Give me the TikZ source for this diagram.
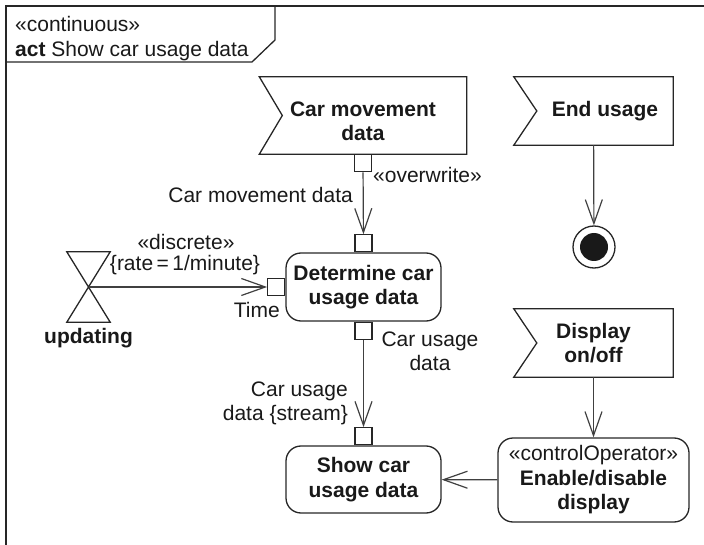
\documentclass[tikz,border=0pt]{standalone}
\usepackage{fontspec}
\setmainfont{Liberation Sans}
\usetikzlibrary{positioning, arrows.meta}
\newcommand\usz{\fontsize{21}{24.5}\selectfont}
\tikzset{
  uline/.style={line width=1.3pt, draw=black!85},
  ublk/.style={align=center, font=\usz\bfseries, inner sep=0pt, text=black!90},
  uact/.style={ublk, uline, rounded corners=15pt, minimum width=155pt, minimum height=68pt},
  uacc/.style={ublk, minimum width=159pt, minimum height=68pt,
               append after command={\pgfextra{\draw[uline]
                 (\tikzlastnode.north west) -- (\tikzlastnode.north east)
                 -- (\tikzlastnode.south east) -- (\tikzlastnode.south west)
                 -- ([xshift=23pt]\tikzlastnode.west) -- cycle;}}},
  upinbox/.style={uline, line width=1.2pt, fill=white, minimum size=17pt, inner sep=0pt},
  ulbl/.style={font=\usz, inner sep=0pt, text=black!90},
  uarr/.style={-{Straight Barb[length=24pt, width=17pt]}, line width=1.2pt, draw=black!75},
}

\begin{document}
\begin{tikzpicture}[x=1pt, y=-1pt]
  \useasboundingbox (0,0) rectangle (704,545);
  % frame and its name tag
  \draw[uline] (6,545) -- (6,6) -- (704,6);
  \draw[uline] (6,62) -- (252,62) -- (275,40) -- (275,6);
  \node[ulbl, anchor=base west] (ster) at (15,32) {«continuous»};
  \node[ulbl, anchor=base west] (ttl) at (15,57) {\textbf{act} Show car usage data};

  % accept event actions
  \node[uacc, minimum width=207pt, minimum height=77pt] (cm) at (363,115.5) {\rule{0pt}{26pt}Car movement\\data};
  \node[uacc] (endu) at (593.5,111) {\hspace*{23pt}End usage};
  \node[uacc] (disp) at (593.5,343) {Display\\on/off};

  % actions
  \node[uact] (det) at (363.5,287) {Determine car\\usage data};
  \node[uact, minimum height=67pt] (show) at (363.5,479.5) {Show car\\usage data};
  \node[uact, minimum width=191pt, minimum height=84pt] (enab) at (593.5,480)
    {\textmd{«controlOperator»}\\Enable/disable\\display};

  % final node
  \node[circle, uline, minimum size=42pt, inner sep=0pt,
        path picture={\fill[black!90] (path picture bounding box.center) circle (14pt);}] (fin) at (594,247) {};

  % time event
  \node[minimum width=43pt, minimum height=70pt, inner sep=0pt] (upd) at (88.5,287) {};
  \draw[uline] (upd.north west) -- (upd.north east) -- (upd.south west) -- (upd.south east) -- cycle;
  \node[ublk, anchor=base] (updl) at (88.5,343) {updating};

  % pins
  \node[upinbox, anchor=north] (cmout) at (cm.south) {};
  \node[upinbox, anchor=south] (detin) at (det.north) {};
  \node[upinbox, anchor=east] (tpin) at (det.west) {};
  \node[upinbox, anchor=north] (detout) at (det.south) {};
  \node[upinbox, anchor=south] (showin) at (show.north) {};

  % flows
  \draw[uarr] (cmout) -- (detin);
  \draw[uarr] (upd.center) -- (tpin);
  \draw[uarr] (detout) -- (showin);
  \draw[uarr] (disp) -- (enab);
  \draw[uarr] (enab) -- (show);
  \draw[uarr] (endu) -- (fin);

  % flow labels
  \node[ulbl, anchor=base west] (owl) at (373,183) {«overwrite»};
  \node[ulbl, anchor=base east] (cml) at (353,203) {Car movement data};
  \node[ulbl, anchor=base] (dsl) at (186,250) {«discrete»};
  \node[ulbl, anchor=base] (rtl) at (185,271) {\{rate\,=\,1/minute\}};
  \node[ulbl, anchor=base east] (tml) at (280,317) {Time};
  \node[ulbl, align=center] (cul) at (430,351.5) {Car usage\\data};
  \node[ulbl, align=right, anchor=east] (csl) at (348,403.5) {Car usage\\data \{stream\}};
\end{tikzpicture}
\end{document}
